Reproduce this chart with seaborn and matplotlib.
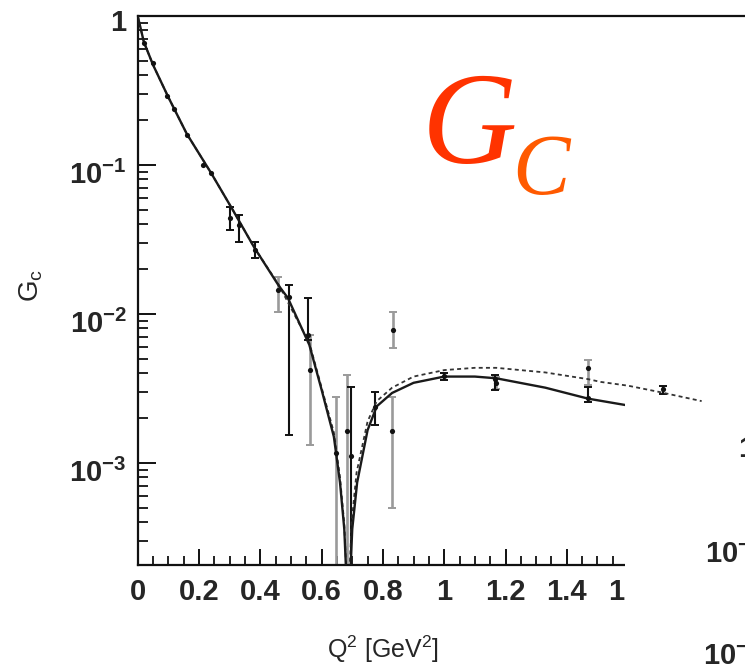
import numpy as np
import pandas as pd
import seaborn as sns
import matplotlib
matplotlib.use("Agg")
import matplotlib.pyplot as plt
from matplotlib.ticker import FixedLocator, FixedFormatter, MultipleLocator, LogLocator, NullFormatter, FuncFormatter
from matplotlib.transforms import ScaledTranslation
from matplotlib.patches import Rectangle

# ---------------- data ----------------
solid_q2 = [0.0, 0.01, 0.02, 0.05, 0.10, 0.16, 0.24, 0.31, 0.38, 0.46, 0.49, 0.56, 0.60, 0.64,
            0.66, 0.674, 0.682, 0.692, 0.70, 0.716, 0.75, 0.78, 0.83, 0.90, 1.00, 1.10, 1.17,
            1.33, 1.47, 1.59]
solid_gc = [1.0, 0.82, 0.67, 0.47, 0.285, 0.162, 0.088, 0.050, 0.028, 0.0155, 0.0128, 0.0062,
            0.0031, 0.0015, 7.4e-4, 3.6e-4, 1.5e-4, 1.5e-4, 3.6e-4, 7.4e-4, 1.66e-3, 2.4e-3,
            2.95e-3, 3.45e-3, 3.8e-3, 3.8e-3, 3.7e-3, 3.2e-3, 2.7e-3, 2.45e-3]

dash_q2 = [0.0, 0.02, 0.05, 0.10, 0.16, 0.24, 0.31, 0.38, 0.46, 0.56, 0.64, 0.66, 0.674, 0.682,
           0.69, 0.698, 0.714, 0.75, 0.78, 0.83, 0.90, 1.00, 1.10, 1.17, 1.33, 1.47, 1.51, 1.60,
           1.70, 1.84]
dash_gc = [1.0, 0.67, 0.47, 0.285, 0.162, 0.088, 0.050, 0.028, 0.0157, 0.0064, 0.0016, 8.0e-4,
           3.9e-4, 1.6e-4, 1.6e-4, 4.0e-4, 8.6e-4, 1.9e-3, 2.6e-3, 3.2e-3, 3.8e-3, 4.2e-3,
           4.35e-3, 4.35e-3, 4.05e-3, 3.65e-3, 3.5e-3, 3.3e-3, 3.0e-3, 2.6e-3]

# low-Q2 points (tiny uncertainties, drawn as dots on the curve)
low_q2 = [0.02, 0.05, 0.096, 0.118, 0.161, 0.213, 0.239]
low_gc = [0.66, 0.48, 0.29, 0.238, 0.159, 0.10, 0.088]

# black data points with error bars (value, lower end, upper end)
black_q2 = [0.301, 0.33, 0.383, 0.494, 0.556, 0.696, 0.774, 1.0, 1.166, 1.47, 1.714]
black_gc = [0.044, 0.0396, 0.027, 0.013, 7.2e-3, 1.11e-3, 2.38e-3, 3.85e-3, 3.65e-3, 2.73e-3, 3.14e-3]
black_lo = [0.0366, 0.0305, 0.0238, 1.55e-3, 6.7e-3, 1e-4, 1.8e-3, 3.6e-3, 3.1e-3, 2.58e-3, 2.9e-3]
black_hi = [0.052, 0.046, 0.0305, 0.0157, 0.0128, 3.24e-3, 3.0e-3, 4.0e-3, 3.9e-3, 3.24e-3, 3.3e-3]

# grey data points
grey_q2 = [0.458, 0.562, 0.647, 0.683, 0.833, 0.830, 1.17, 1.47]
grey_gc = [0.0145, 4.2e-3, 1.17e-3, 1.64e-3, 7.8e-3, 1.64e-3, 3.45e-3, 4.34e-3]
grey_lo = [0.0103, 1.32e-3, 1e-4, 1e-4, 5.9e-3, 5.0e-4, 3.15e-3, 3.33e-3]
grey_hi = [0.0177, 7.2e-3, 2.77e-3, 3.9e-3, 0.0103, 2.77e-3, 3.75e-3, 4.9e-3]

x_ticks = [0, 0.2, 0.4, 0.6, 0.8, 1.0, 1.2, 1.4, 1.6, 1.8]
y_ticks = [1e-3, 1e-2, 1e-1, 1.0]
y_tick_labels = ["10$^{-3}$", "10$^{-2}$", "10$^{-1}$", "1"]

# ---------------- style ----------------
sns.set_style("white")
plt.rcParams["font.family"] = ["Liberation Sans", "DejaVu Sans"]
plt.rcParams["mathtext.default"] = "regular"
plt.rcParams["axes.unicode_minus"] = True

W, H = 745, 664
fig = plt.figure(figsize=(W / 100, H / 100), dpi=100)
px_per_unit = 306.5
ax = fig.add_axes([137.7 / W, (H - 565) / H, 2.0 * px_per_unit / W, 549 / H])
ax.set_facecolor("white")

solid = pd.DataFrame({"q2": solid_q2, "gc": solid_gc})
dashed = pd.DataFrame({"q2": dash_q2, "gc": dash_gc})
low = pd.DataFrame({"q2": low_q2, "gc": low_gc})
black = pd.DataFrame({"q2": black_q2, "gc": black_gc, "lo": black_lo, "hi": black_hi})
grey = pd.DataFrame({"q2": grey_q2, "gc": grey_gc, "lo": grey_lo, "hi": grey_hi})

ax.set_yscale("log")
ax.set_xlim(0, 2.0)
ax.set_ylim(10 ** -3.685, 1.0)

# error bars
ax.errorbar(grey["q2"], grey["gc"], yerr=[grey["gc"] - grey["lo"], grey["hi"] - grey["gc"]],
            fmt="none", ecolor="#9a9a9a", elinewidth=1.9, capsize=2.6, capthick=1.4, zorder=2)
ax.errorbar(black["q2"], black["gc"], yerr=[black["gc"] - black["lo"], black["hi"] - black["gc"]],
            fmt="none", ecolor="#111111", elinewidth=1.5, capsize=2.6, capthick=1.4, zorder=3)

sns.lineplot(data=dashed, x="q2", y="gc", ax=ax, sort=False, estimator=None, color="#333333",
             linewidth=1.3, linestyle=(0, (2.2, 1.8)), zorder=4)
sns.lineplot(data=solid, x="q2", y="gc", ax=ax, sort=False, estimator=None, color="#1a1a1a",
             linewidth=1.7, zorder=5)
sns.scatterplot(data=pd.concat([low, black, grey]), x="q2", y="gc", ax=ax, color="#111111", s=14,
                linewidth=0, zorder=6)

# axes cosmetics
ax.set_xlabel("")
ax.set_ylabel("")
for side in ["top", "left", "bottom"]:
    ax.spines[side].set_linewidth(1.6)
    ax.spines[side].set_color("#111111")
ax.spines["right"].set_visible(False)

ax.xaxis.set_major_locator(FixedLocator(x_ticks))
ax.xaxis.set_major_formatter(FuncFormatter(lambda v, p: f"{v:g}"))
ax.xaxis.set_minor_locator(MultipleLocator(0.05))
ax.yaxis.set_major_locator(FixedLocator(y_ticks))
ax.yaxis.set_major_formatter(FixedFormatter(y_tick_labels))
ax.yaxis.set_minor_locator(LogLocator(base=10, subs=np.arange(2, 10)))
ax.yaxis.set_minor_formatter(NullFormatter())

ax.tick_params(axis="both", which="both", direction="in", color="#111111",
               bottom=True, left=True, top=False, right=False)
ax.tick_params(axis="y", which="major", length=13, width=1.4, pad=8, labelsize=21)
ax.tick_params(axis="y", which="minor", length=7, width=1.3)
ax.tick_params(axis="x", which="major", length=11.5, width=1.4, pad=9, labelsize=21)
ax.tick_params(axis="x", which="minor", length=6.5, width=1.3)
for lab in ax.get_xticklabels() + ax.get_yticklabels():
    lab.set_fontweight("bold")

# shift y tick labels downward slightly (as in the reference)
offs = {1.0: -4, 1e-1: -7, 1e-2: -7, 1e-3: -7}
for tick, loc in zip(ax.yaxis.get_major_ticks(), y_ticks):
    lab = tick.label1
    lab.set_transform(lab.get_transform() + ScaledTranslation(0, offs[loc] / 100, fig.dpi_scale_trans))

# axis titles
fig.text(383 / W, 1 - 649 / H, "Q$^2$ [GeV$^2$]", ha="center", va="center", fontsize=18)
fig.text(31 / W, 1 - 285 / H, "G$_c$", ha="center", va="center", rotation=90, fontsize=20)

# big red label
fig.text(422 / W, 1 - 163 / H, "G", fontsize=95, family="Liberation Serif", style="italic",
         color="#ff3300", ha="left", va="baseline")
fig.text(512 / W, 1 - 194 / H, "C", fontsize=62, family="Liberation Serif", style="italic",
         color="#ff5a00", ha="left", va="baseline")

# neighbouring panel overlapping on the right
fig.add_artist(Rectangle((625 / W, 0), 1 - 625 / W + 0.01, (H - 403) / H, transform=fig.transFigure,
                         facecolor="white", edgecolor="none", zorder=10))
fig.text(738 / W, 1 - 457 / H, "1", fontsize=21, fontweight="bold", ha="left", va="baseline", zorder=11)
fig.text(705 / W, 1 - 563 / H, "10$^{-1}$", fontsize=21, fontweight="bold", ha="left", va="baseline", zorder=11)
fig.text(703 / W, 1 - 665 / H, "10$^{-2}$", fontsize=21, fontweight="bold", ha="left", va="baseline", zorder=11)

fig.savefig("out.png", dpi=100, facecolor="white")
